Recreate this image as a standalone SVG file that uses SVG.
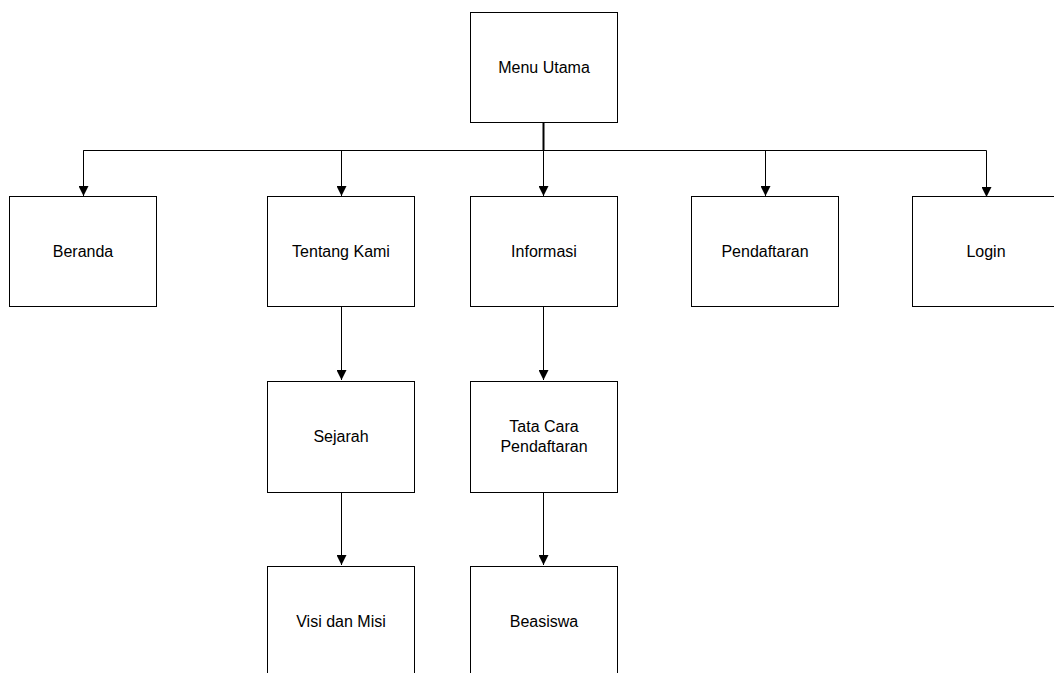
<svg xmlns="http://www.w3.org/2000/svg" width="1054" height="673" viewBox="0 0 1054 673">
  <style>
    .box { fill: #ffffff; stroke: #000000; stroke-width: 1; }
    .lbl { font-family: "Liberation Sans", Arial, sans-serif; font-size: 16px; fill: #000000; text-anchor: middle; }
    .wire { fill: none; stroke: #000000; stroke-width: 1; }
  </style>
  <defs>
    <marker id="arrow" viewBox="0 0 10 10" refX="10" refY="5" markerWidth="10" markerHeight="10" markerUnits="userSpaceOnUse" orient="auto">
      <path d="M0,0 L10,5 L0,10 Z" fill="#000000"/>
    </marker>
  </defs>
  <rect width="1054" height="673" fill="#ffffff"/>

  <g id="connectors">
    <line x1="543.5" y1="122" x2="543.5" y2="150.5" stroke="#000" stroke-width="2"/>
    <polyline class="wire" points="83.5,197 83.5,150.5 986.5,150.5 986.5,197" marker-end="url(#arrow)"/>
    <line class="wire" x1="83.5" y1="150.5" x2="83.5" y2="196" marker-end="url(#arrow)"/>
    <line class="wire" x1="341.5" y1="150.5" x2="341.5" y2="196" marker-end="url(#arrow)"/>
    <line class="wire" x1="543.5" y1="150.5" x2="543.5" y2="196" marker-end="url(#arrow)"/>
    <line class="wire" x1="765.5" y1="150.5" x2="765.5" y2="196" marker-end="url(#arrow)"/>
    <line class="wire" x1="341.5" y1="307" x2="341.5" y2="380" marker-end="url(#arrow)"/>
    <line class="wire" x1="543.5" y1="307" x2="543.5" y2="380" marker-end="url(#arrow)"/>
    <line class="wire" x1="341.5" y1="493" x2="341.5" y2="565" marker-end="url(#arrow)"/>
    <line class="wire" x1="543.5" y1="493" x2="543.5" y2="565" marker-end="url(#arrow)"/>
  </g>

  <g id="menu-utama">
    <rect class="box" x="470.5" y="12.5" width="147" height="110"/>
    <text class="lbl" x="544" y="73">Menu Utama</text>
  </g>
  <g id="beranda">
    <rect class="box" x="9.5" y="196.5" width="147" height="110"/>
    <text class="lbl" x="83" y="257">Beranda</text>
  </g>
  <g id="tentang-kami">
    <rect class="box" x="267.5" y="196.5" width="147" height="110"/>
    <text class="lbl" x="341" y="257">Tentang Kami</text>
  </g>
  <g id="informasi">
    <rect class="box" x="470.5" y="196.5" width="147" height="110"/>
    <text class="lbl" x="544" y="257">Informasi</text>
  </g>
  <g id="pendaftaran">
    <rect class="box" x="691.5" y="196.5" width="147" height="110"/>
    <text class="lbl" x="765" y="257">Pendaftaran</text>
  </g>
  <g id="login">
    <rect class="box" x="912.5" y="196.5" width="147" height="110"/>
    <text class="lbl" x="986" y="257">Login</text>
  </g>
  <g id="sejarah">
    <rect class="box" x="267.5" y="381.5" width="147" height="111"/>
    <text class="lbl" x="341" y="442">Sejarah</text>
  </g>
  <g id="tata-cara-pendaftaran">
    <rect class="box" x="470.5" y="381.5" width="147" height="111"/>
    <text class="lbl" x="544" y="432">Tata Cara</text>
    <text class="lbl" x="544" y="452">Pendaftaran</text>
  </g>
  <g id="visi-dan-misi">
    <rect class="box" x="267.5" y="566.5" width="147" height="111"/>
    <text class="lbl" x="341" y="627">Visi dan Misi</text>
  </g>
  <g id="beasiswa">
    <rect class="box" x="470.5" y="566.5" width="147" height="111"/>
    <text class="lbl" x="544" y="627">Beasiswa</text>
  </g>
</svg>
